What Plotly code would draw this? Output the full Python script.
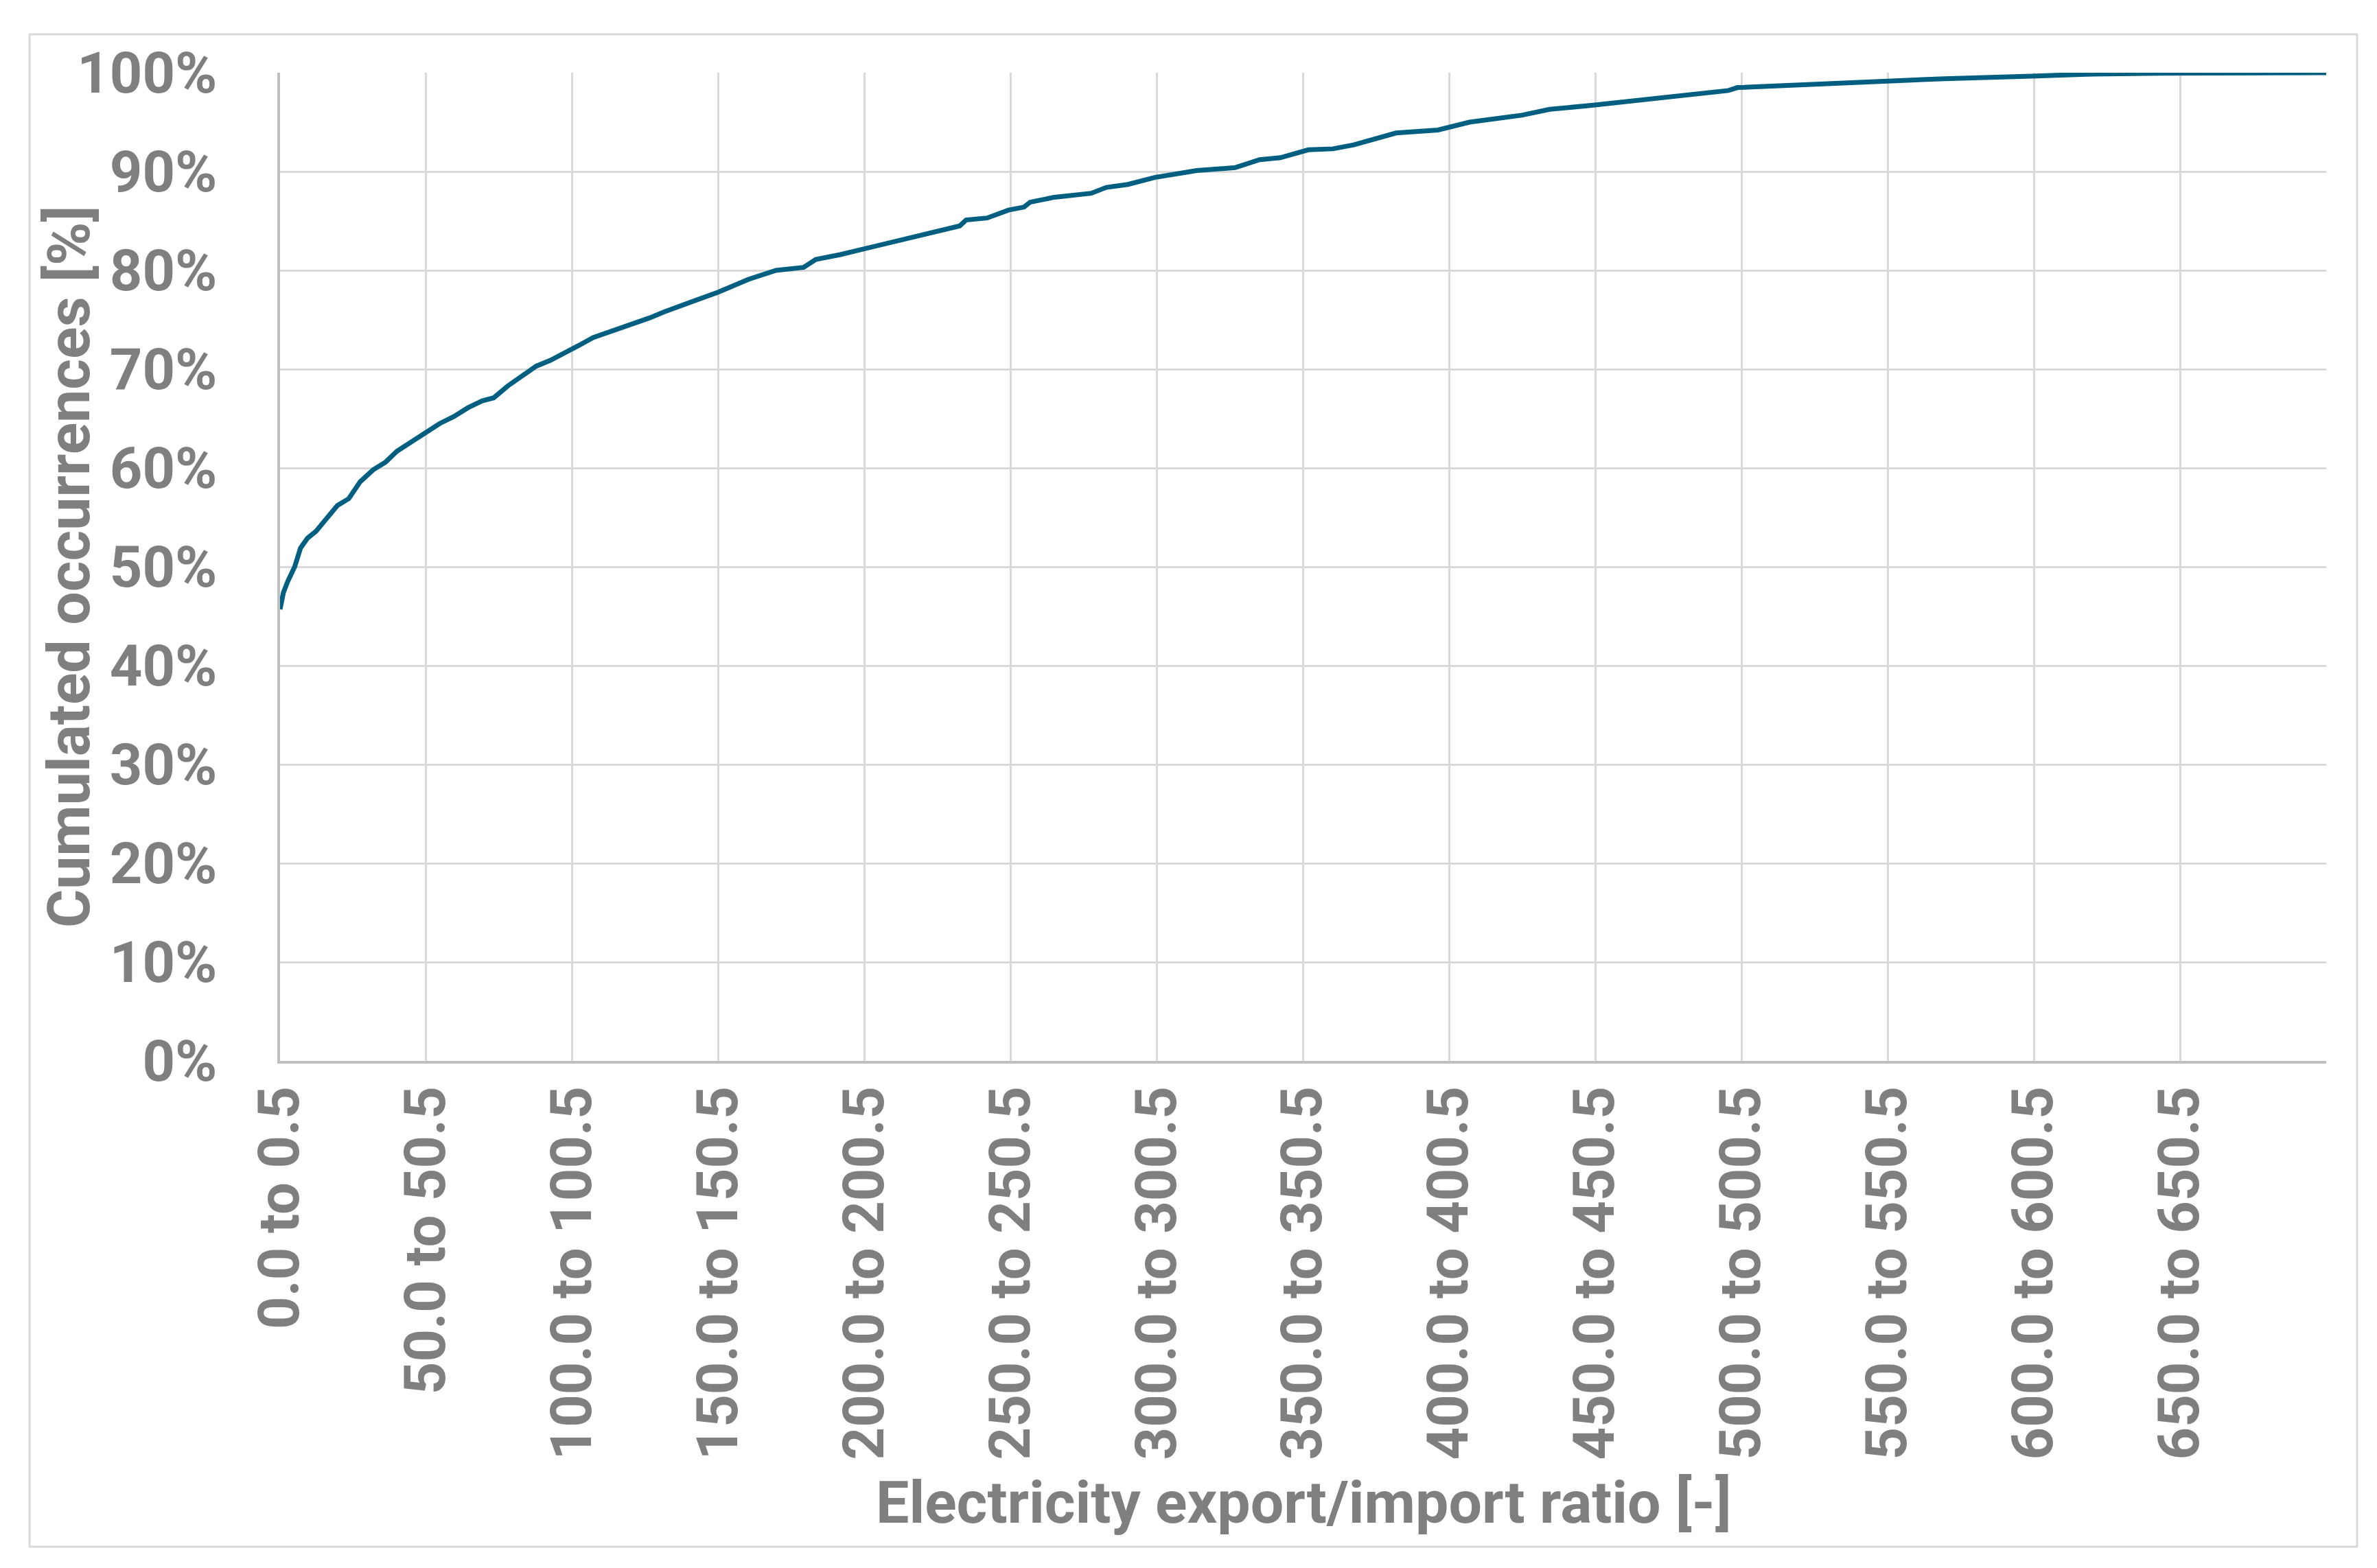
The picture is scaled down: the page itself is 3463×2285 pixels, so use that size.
import plotly.graph_objects as go

# upper edge of each 0.5-wide ratio bin
ratio_upper_edge = [
    0.5, 1.65, 3.1, 5.5, 7.5, 9.9, 12.8, 16.2, 20.1, 24.0, 27.9, 32.3, 36.6, 40.5,
    46.4, 50.2, 55.1, 59.9, 64.8, 69.7, 73.6, 78.4, 83.3, 88.1, 93.0, 97.8, 102.7,
    107.6, 112.4, 117.2, 122.2, 127.0, 131.9, 136.7, 141.6, 147.4, 150.4, 160.8,
    170.2, 179.6, 183.8, 192.2, 200.6, 208.9, 217.3, 225.7, 233.0, 235.2, 242.4,
    249.7, 255.0, 257.1, 265.4, 278.0, 283.2, 290.6, 299.7, 314.1, 327.2, 335.6,
    342.7, 352.3, 360.7, 367.8, 372.7, 382.3, 396.6, 407.4, 425.3, 434.9, 449.2,
    458.8, 469.3, 496.0, 499.1, 522.7, 549.4, 569.8, 599.6, 618.4, 643.5, 700.5,
]
cumulated_pct = [
    45.7, 47.4, 48.5, 50.0, 51.9, 52.9, 53.6, 54.9, 56.2, 56.9, 58.6, 59.8, 60.6, 61.7,
    62.8, 63.5, 64.5, 65.2, 66.1, 66.8, 67.1, 68.3, 69.3, 70.3, 70.9, 71.6, 72.4,
    73.2, 73.7, 74.2, 74.6, 75.2, 75.8, 76.3, 76.9, 77.5, 77.8, 79.1,
    80.0, 80.3, 81.1, 81.6, 82.2, 82.8, 83.4, 84.1, 84.5, 85.1, 85.3,
    86.1, 86.4, 86.9, 87.4, 87.8, 88.4, 88.7, 89.4, 90.1, 90.4, 91.2,
    91.4, 92.2, 92.3, 92.7, 93.1, 93.9, 94.2, 95.0, 95.7, 96.3, 96.7,
    97.0, 97.4, 98.2, 98.5, 98.8, 99.1, 99.4, 99.65, 99.85, 99.94, 100.0,
]

x_tick_vals = [0.5, 50.5, 100.5, 150.5, 200.5, 250.5, 300.5, 350.5, 400.5, 450.5,
               500.5, 550.5, 600.5, 650.5, 700.5]
x_tick_text = ["0.0 to 0.5", "50.0 to 50.5", "100.0 to 100.5", "150.0 to 150.5",
               "200.0 to 200.5", "250.0 to 250.5", "300.0 to 300.5", "350.0 to 350.5",
               "400.0 to 400.5", "450.0 to 450.5", "500.0 to 500.5", "550.0 to 550.5",
               "600.0 to 600.5", "650.0 to 650.5", ""]
y_tick_vals = [0, 10, 20, 30, 40, 50, 60, 70, 80, 90, 100]
y_tick_text = ["0%", "10%", "20%", "30%", "40%", "50%", "60%", "70%", "80%", "90%", "100%"]

GREY_TEXT = "#7f7f7f"
GRID = "#d9d9d9"
AXIS = "#bfbfbf"
LINE = "#005f80"

fig = go.Figure(data=[go.Scatter(x=ratio_upper_edge, y=cumulated_pct, mode="lines",
                                 line=dict(color=LINE, width=7), showlegend=False)])

fig.update_layout(
    width=3463, height=2285,
    margin=dict(l=400, r=82, t=98, b=747),
    paper_bgcolor="white", plot_bgcolor="white",
    font=dict(family="Roboto", color=GREY_TEXT, size=83, weight="bold"),
)
fig.update_xaxes(
    range=[0.5, 700.5], tickmode="array", tickvals=x_tick_vals, ticktext=x_tick_text,
    tickangle=-90, showgrid=True, gridcolor=GRID, gridwidth=3,
    showline=True, linecolor=AXIS, linewidth=4, zeroline=False,
    ticks="", ticklabelstandoff=0,
    tickfont=dict(family="Roboto", color=GREY_TEXT, size=83, weight="bold"),
)
fig.update_yaxes(
    range=[0, 100], tickmode="array", tickvals=y_tick_vals, ticktext=y_tick_text,
    showgrid=True, gridcolor=GRID, gridwidth=3,
    showline=True, linecolor=AXIS, linewidth=4, zeroline=False,
    ticks="", ticklabelstandoff=71,
    tickfont=dict(family="Roboto", color=GREY_TEXT, size=83, weight="bold"),
)

fig.add_annotation(text="Cumulated occurrences [%]", xref="paper", yref="paper",
                   x=-0.1033, y=0.5, textangle=-90, showarrow=False,
                   xanchor="center", yanchor="middle",
                   font=dict(family="Roboto", color=GREY_TEXT, size=86, weight="bold"))
fig.add_annotation(text="Electricity export/import ratio [-]", xref="paper", yref="paper",
                   x=0.5, y=-0.447, showarrow=False, xanchor="center", yanchor="middle",
                   font=dict(family="Roboto", color=GREY_TEXT, size=86, weight="bold"))

# light frame around the whole chart area
fig.add_shape(type="rect", xref="paper", yref="paper",
              x0=-0.1224, x1=1.0151, y0=-0.4917, y1=1.0389,
              line=dict(color=GRID, width=3), fillcolor="rgba(0,0,0,0)", layer="below")

fig.write_html("out.html")
